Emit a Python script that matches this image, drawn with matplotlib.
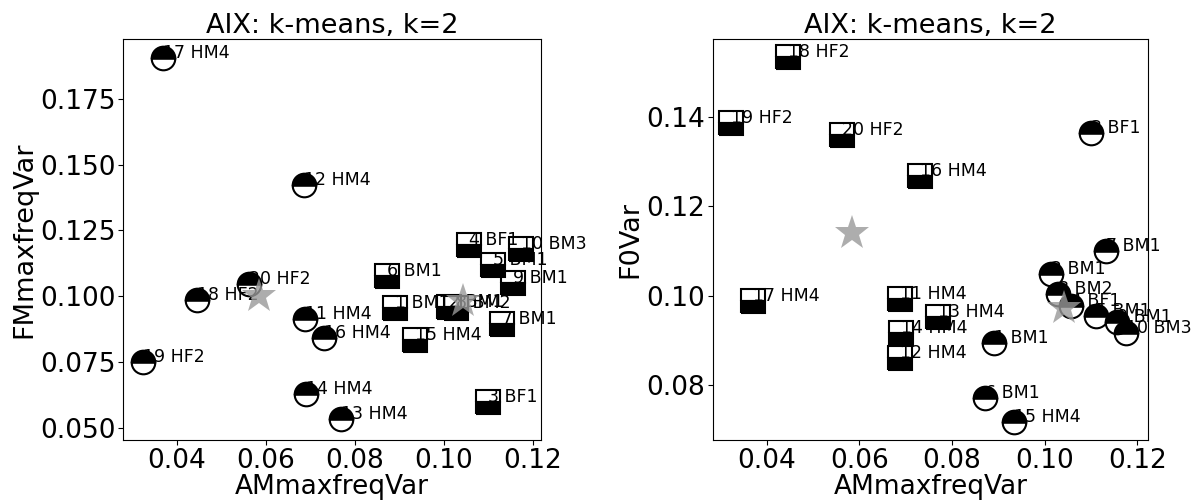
import numpy as np
import matplotlib
matplotlib.use('Agg')
import matplotlib.pyplot as plt

# speaker ids and group tags
ids = list(range(1, 21))
groups = ['BM1', 'BM1', 'BF1', 'BF1', 'BM1', 'BM1', 'BM1', 'BM2', 'BM1', 'BM3',
          'HM4', 'HM4', 'HM4', 'HM4', 'HM4', 'HM4', 'HM4', 'HF2', 'HF2', 'HF2']

# k-means labels (k=2)
cluster = [0, 0, 0, 0, 0, 0, 0, 0, 0, 0,
           1, 1, 1, 1, 0, 1, 1, 1, 1, 1]

AMmaxfreqVar = [0.0891, 0.1013, 0.1100, 0.1056, 0.1112, 0.0872, 0.1132, 0.1028, 0.1157, 0.1175,
                0.0689, 0.0687, 0.0769, 0.0690, 0.0935, 0.0731, 0.0370, 0.0446, 0.0324, 0.0562]
FMmaxfreqVar = [0.0955, 0.0958, 0.0599, 0.1193, 0.1118, 0.1079, 0.0894, 0.0955, 0.1049, 0.1178,
                0.0913, 0.1424, 0.0534, 0.0629, 0.0834, 0.0841, 0.1905, 0.0985, 0.0752, 0.1045]
F0Var = [0.0895, 0.1049, 0.1364, 0.0978, 0.0955, 0.0771, 0.1100, 0.1004, 0.0940, 0.0917,
         0.0993, 0.0861, 0.0953, 0.0917, 0.0717, 0.1269, 0.0987, 0.1534, 0.1387, 0.1360]


def plot_clusters(ax, x, y, markers, xlabel, ylabel, fills):
    x = np.array(x)
    y = np.array(y)
    lab = np.array(cluster)
    for i in range(len(x)):
        c = lab[i]
        ax.plot(x[i], y[i], marker=markers[c], fillstyle=fills[c], markersize=17,
                markerfacecolor='black', markerfacecoloralt='none',
                markeredgecolor='black', markeredgewidth=1.5, linestyle='none', zorder=3)
        ax.text(x[i], y[i], f'{ids[i]} {groups[i]}', fontsize=12.5, zorder=1)
    # centroids
    for c in range(2):
        ax.plot(x[lab == c].mean(), y[lab == c].mean(), marker='*', markersize=26,
                color='#999999', alpha=0.8, markeredgewidth=0, linestyle='none', zorder=4)
    ax.set_title('AIX: k-means, k=2', fontsize=19.5, pad=4)
    ax.set_xlabel(xlabel, fontsize=19, labelpad=0)
    ax.set_ylabel(ylabel, fontsize=19.5, labelpad=2)
    ax.tick_params(labelsize=19, pad=2)


fig = plt.figure(figsize=(12, 5.04), dpi=100)
ax1 = fig.add_axes([0.1025, 0.127, 0.348, 0.796])
ax2 = fig.add_axes([0.594, 0.127, 0.363, 0.796])

plot_clusters(ax1, AMmaxfreqVar, FMmaxfreqVar, ['s', 'o'], 'AMmaxfreqVar', 'FMmaxfreqVar',
              ['bottom', 'top'])
ax1.set_xlim(0.0279, 0.1218)
ax1.set_ylim(0.0455, 0.1977)
ax1.set_xticks([0.04, 0.06, 0.08, 0.10, 0.12])
ax1.set_yticks([0.05, 0.075, 0.1, 0.125, 0.15, 0.175])

plot_clusters(ax2, AMmaxfreqVar, F0Var, ['o', 's'], 'AMmaxfreqVar', 'F0Var',
              ['top', 'bottom'])
ax2.set_xlim(0.0284, 0.1224)
ax2.set_ylim(0.0677, 0.1575)
ax2.set_xticks([0.04, 0.06, 0.08, 0.10, 0.12])
ax2.set_yticks([0.08, 0.10, 0.12, 0.14])

fig.savefig('out.png', dpi=100)
